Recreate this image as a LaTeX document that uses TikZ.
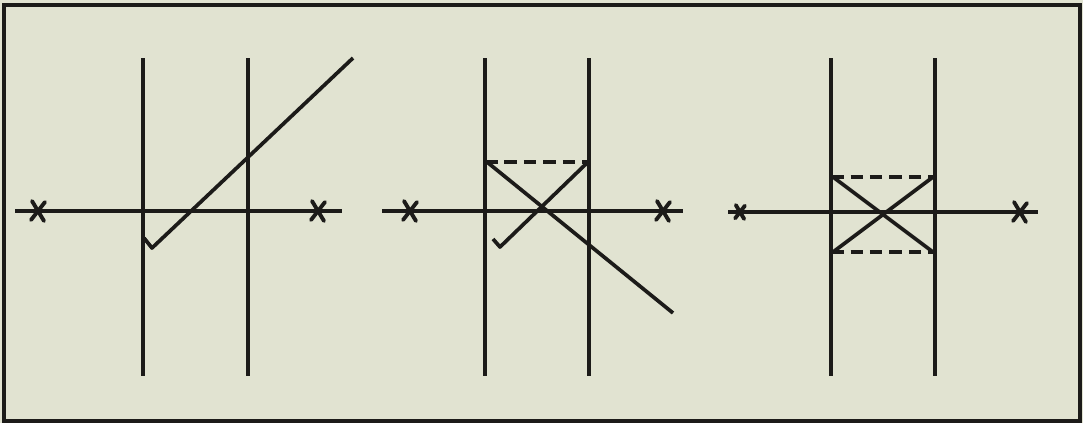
\documentclass[tikz,border=0pt]{standalone}
\usepackage{tikz}
\usetikzlibrary{calc}
\definecolor{paper}{HTML}{E1E3D1}
\definecolor{ink}{HTML}{1C1B19}

\begin{document}
\begin{tikzpicture}[x=0.02cm, y=-0.02cm, line width=2pt, draw=ink, wall/.style={line width=2.3pt}, ray/.style={line width=2.1pt, line join=round}, mirror/.style={line width=2.1pt, dash pattern=on 0.25cm off 0.14cm}, spoke/.style={line width=2.2pt, line cap=round}]
	\fill[paper] (0,0) rectangle (1083,423);
	\useasboundingbox (0,0) rectangle (1083,423);
	\draw[line width=2.4pt] (4,5) rectangle (1080,421);
	% walls, axes and poles of the three panels
	\foreach \p/\l/\r/\ya/\al/\ar in {1/143/248/211/15/342, 2/485/589/211/382/683, 3/831/935/212/728/1038} {
		\coordinate (L\p t) at (\l,58);
		\coordinate (L\p b) at (\l,376);
		\coordinate (R\p t) at (\r,58);
		\coordinate (R\p b) at (\r,376);
		\coordinate (X\p a) at (\al,\ya);
		\coordinate (X\p b) at (\ar,\ya);
		\draw[wall] (L\p t) -- (L\p b);
		\draw[wall] (R\p t) -- (R\p b);
		\draw (X\p a) -- (X\p b);
	}
	\foreach \n/\x/\y/\s in {P1/38/211/1, P2/318/211/1, P3/410/211/1, P4/663/211/1, P5/740/212/0.7, P6/1020/212/1} {
		\coordinate (\n) at (\x,\y);
		\draw[spoke] ($(\n)+(-6*\s,-10*\s)$) -- ($(\n)+(6*\s,10*\s)$);
		\draw[spoke] ($(\n)+(7*\s,-9*\s)$) -- ($(\n)+(-7*\s,9*\s)$);
	}
	% panel 1
	\coordinate (a1) at (353,58);
	\coordinate (a2) at (152,248);
	\coordinate (a3) at (144,238);
	\draw[ray] (a1) -- (a2) -- (a3);
	% panel 2
	\coordinate (b1) at (487,162);
	\coordinate (b2) at (673,313);
	\coordinate (b3) at (588,162);
	\coordinate (b4) at (500,247);
	\coordinate (b5) at (493,239);
	\draw[mirror] (L2t |- b1) -- (R2t |- b3);
	\draw[ray] (b1) -- (b2);
	\draw[ray] (b3) -- (b4) -- (b5);
	% panel 3
	\coordinate (c1) at (833,177);
	\coordinate (c2) at (933,252);
	\coordinate (c3) at (933,177);
	\coordinate (c4) at (833,252);
	\draw[mirror] (L3t |- c1) -- (R3t |- c3);
	\draw[mirror] (L3t |- c4) -- (R3t |- c2);
	\draw[ray] (c1) -- (c2);
	\draw[ray] (c3) -- (c4);
\end{tikzpicture}
\end{document}
